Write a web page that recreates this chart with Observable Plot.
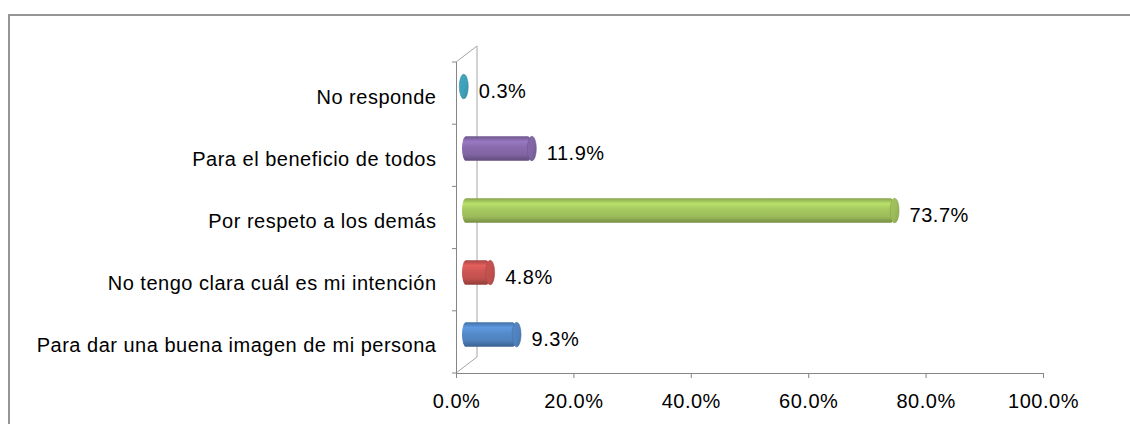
<!DOCTYPE html>
<html><head><meta charset="utf-8">
<script src="https://cdn.jsdelivr.net/npm/d3@7"></script>
<script src="https://cdn.jsdelivr.net/npm/@observablehq/plot@0.6"></script>
<style>
html,body{margin:0;padding:0;background:#fff;overflow:hidden}
#wrap{position:relative;width:1130px;height:424px;overflow:hidden}
#border{position:absolute;left:8px;top:14px;width:1200px;height:500px;border:2px solid #959595;box-sizing:border-box}
#chart{position:absolute;left:0;top:0}
</style></head><body>
<div id="wrap"><div id="border"></div><div id="chart"></div></div>
<script>
// ---- data ----
const categories = [
  "No responde",
  "Para el beneficio de todos",
  "Por respeto a los demás",
  "No tengo clara cuál es mi intención",
  "Para dar una buena imagen de mi persona"
];
const values = [0.3, 11.9, 73.7, 4.8, 9.3];
const tickValues = [0, 20, 40, 60, 80, 100];
// ---- style ----
const palette = ["#3e9fb8", "#8064a2", "#9bbb59", "#c0504d", "#4f81bd"];

const data = categories.map((c, i) => ({category: c, value: values[i], idx: i}));
const fmt = d => d.toFixed(1) + "%";

const plot = Plot.plot({
  width: 1130, height: 424,
  marginLeft: 456, marginRight: 87, marginTop: 62, marginBottom: 51,
  style: {fontFamily: "'Liberation Sans', Arial, sans-serif", fontSize: "20px", letterSpacing: "0.5px", color: "black", background: "transparent", overflow: "visible"},
  x: {domain: [0, 100]},
  y: {domain: categories, padding: 0},
  color: {type: "identity"},
  marks: [
    Plot.axisY({tickSize: 0, tickPadding: 20, dy: 3, fill: "black", label: null}),
    Plot.axisX({ticks: tickValues, tickSize: 5, tickPadding: 15, tickFormat: fmt, stroke: "#868686", fill: "black", label: null}),
    Plot.frame({anchor: "bottom", stroke: "#868686"}),
    Plot.frame({anchor: "left", stroke: "#868686"}),
    Plot.barX(data, {x: "value", y: "category", fill: d => `url(#cyl-${d.idx})`,
      insetTop: 18.7, insetBottom: 18.7, dx: 6, dy: -7.5, rx: 4, ry: 12.5}),
    Plot.barX(data, {x1: "value", x2: "value", y: "category", fill: d => `url(#cap-${d.idx})`,
      stroke: d => d3.color(palette[d.idx]).darker(0.5).formatHex(), strokeWidth: 0.5,
      insetTop: 18.7, insetBottom: 18.7, insetLeft: -4.5, insetRight: -4.5, dx: 6, dy: -7.5, rx: 4.5, ry: 12.5}),
    Plot.text(data, {x: "value", y: "category", text: d => fmt(d.value), textAnchor: "start",
      dx: 20.5, dy: -3, fill: "black"})
  ]
});
document.getElementById("chart").appendChild(plot);

// ---- decorations computed from the plot's scales ----
const svg = d3.select(plot);
const xs = plot.scale("x"), ys = plot.scale("y");
const x0 = xs.apply(0);
const [yTop, yBot] = ys.range;
const step = (yBot - yTop) / categories.length;

const defs = svg.insert("defs", ":first-child");
palette.forEach((c, i) => {
  const base = d3.color(c);
  const g = defs.append("linearGradient").attr("id", `cyl-${i}`)
    .attr("x1", 0).attr("y1", 0).attr("x2", 0).attr("y2", 1);
  [[0, base.darker(0.4)], [0.22, base.brighter(0.5)], [0.45, base.brighter(0.2)], [0.75, base], [1, base.darker(0.8)]]
    .forEach(([o, col]) => g.append("stop").attr("offset", o).attr("stop-color", col.formatHex()));
  const h = defs.append("linearGradient").attr("id", `cap-${i}`)
    .attr("x1", 0).attr("y1", 0).attr("x2", 1).attr("y2", 1);
  [[0, base.brighter(0.15)], [0.6, base], [1, base.darker(0.4)]]
    .forEach(([o, col]) => h.append("stop").attr("offset", o).attr("stop-color", col.formatHex()));
});

const wall = svg.insert("g", "g").attr("fill", "none").attr("stroke", "#a6a6a6");
const depthX = 21, depthY = -16;
wall.append("polyline")
  .attr("points", [[x0, yBot], [x0 + depthX, yBot + depthY], [x0 + depthX, yTop + depthY], [x0, yTop]].map(p => p.join(",")).join(" "));
const ticks = svg.append("g").attr("stroke", "#868686");
d3.range(categories.length + 1).forEach(i => {
  const y = yTop + i * step;
  ticks.append("line").attr("x1", x0 - 4).attr("x2", x0).attr("y1", y).attr("y2", y);
});
</script>
</body></html>
